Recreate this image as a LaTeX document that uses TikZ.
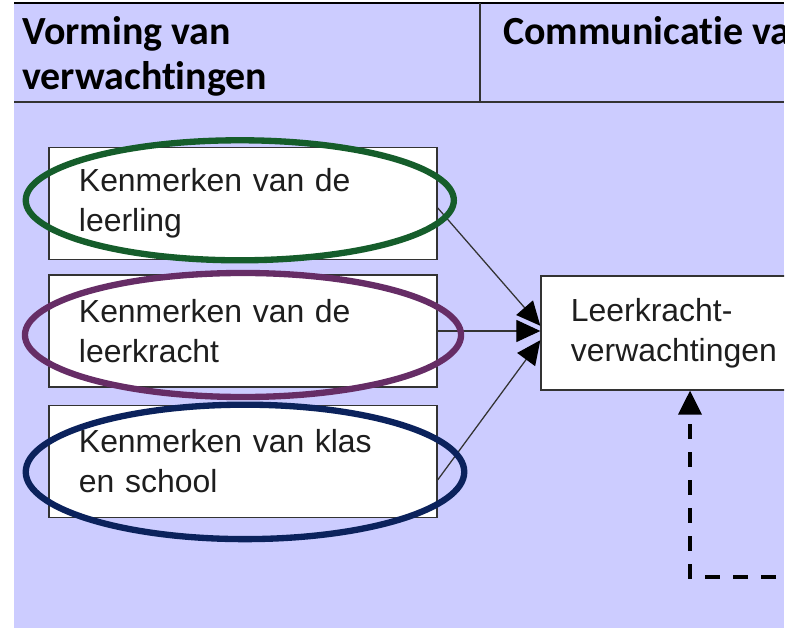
\documentclass[tikz,border=0pt]{standalone}
\usepackage{fontspec}
\setmainfont{Liberation Sans}
\newfontfamily\headfont[Ligatures=NoCommon]{Carlito}
\usetikzlibrary{arrows.meta}
\definecolor{lavender}{HTML}{CCCCFF}
\definecolor{boxgray}{HTML}{333333}
\definecolor{txtgray}{HTML}{1E1E1E}
\definecolor{ringgreen}{HTML}{155D2B}
\definecolor{ringpurple}{HTML}{662D66}
\definecolor{ringnavy}{HTML}{0B225C}

\begin{document}
\begin{tikzpicture}[x=0.025cm,y=-0.025cm,
	kbox/.style={draw=boxgray,line width=0.9pt,fill=white,inner xsep=0.75cm,inner ysep=0pt,
		text width=8.2cm,align=left,minimum height=2.8cm,text=txtgray,
		font=\fontsize{22.7}{28.4}\selectfont},
	hdr/.style={inner sep=0pt,align=left,text=black,font=\headfont\bfseries\fontsize{28.4}{32}\selectfont},
	flow/.style={draw=boxgray,line width=0.9pt,-{Triangle[length=0.6cm,width=0.55cm,color=black]}},
	fbdash/.style={line width=2.2pt,dash pattern=on 0.38cm off 0.32cm,-{Triangle[length=0.6cm,width=0.58cm]}},
	ring/.style={draw=#1,line width=4.5pt}]

	\useasboundingbox (0,0) rectangle (794,628);

	\begin{scope}
	\clip (14,0) rectangle (784,628);
	\fill[lavender] (14,3) rectangle (784,628);

	% header
	\draw[black,line width=1.6pt] (14,3) -- (784,3);
	\draw[boxgray,line width=1.2pt] (14,102) -- (784,102);
	\draw[boxgray,line width=1.2pt] (480,3) -- (480,102);
	\node[hdr,anchor=north west] (vorming) at (22,16) {Vorming van\\verwachtingen};
	\node[hdr,anchor=north west] (comm) at (503,16) {Communicatie va};

	% kenmerken
	\node[kbox] (k1) at (243,203.5) {Kenmerken van de\\leerling};
	\node[kbox] (k2) at (243,331) {Kenmerken van de\\leerkracht};
	\node[kbox] (k3) at (243,461.5) {Kenmerken van klas\\en school};

	\node[kbox,text width=6cm,minimum height=2.85cm] (lv) at (691,333) {Leerkracht-\\verwachtingen};

	\draw[flow] ([yshift=-0.11cm]k1.east) -- ([yshift=0.18cm]lv.west);
	\draw[flow] (k2.east) -- (k2.east -| lv.west);
	\draw[flow] ([yshift=-0.46cm]k3.east) -- ([yshift=-0.18cm]lv.west);

	\coordinate (loopend) at (776,577);
	\coordinate (loopcorner) at (690,577);
	\draw[fbdash] (loopend) -- (loopcorner) -- (loopcorner |- lv.south);

	% omcirkeld
	\draw[ring=ringgreen] ([xshift=-0.08cm,yshift=0.08cm]k1.center) ellipse [x radius=5.35cm, y radius=1.5cm];
	\draw[ring=ringpurple] ([yshift=-0.1cm]k2.center) ellipse [x radius=5.45cm, y radius=1.55cm];
	\draw[ring=ringnavy] ([xshift=0.05cm,yshift=-0.26cm]k3.center) ellipse [x radius=5.48cm, y radius=1.68cm];
	\end{scope}
\end{tikzpicture}
\end{document}
